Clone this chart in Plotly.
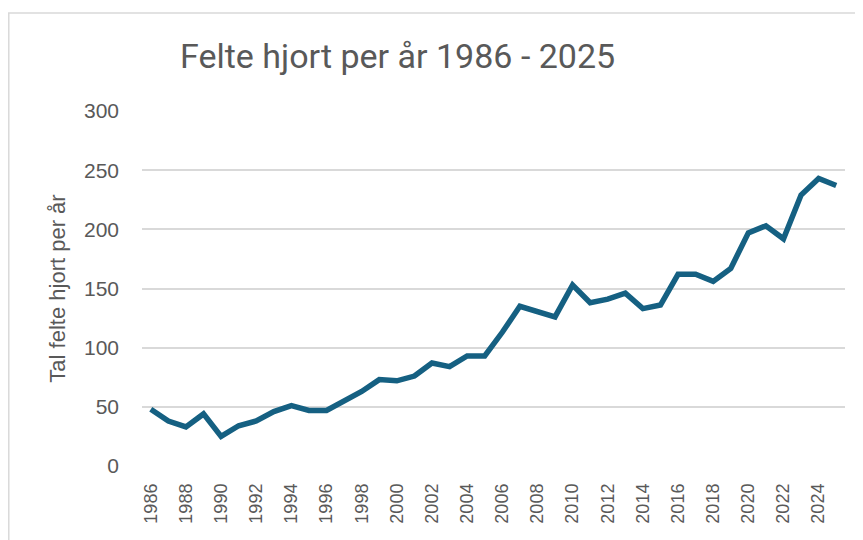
"""Felte hjort per år 1986 - 2025 (line chart)."""

import plotly.graph_objects as go

years = list(range(1986, 2026))
felte = [
    48, 38, 33, 44, 25, 34, 38, 46, 51, 47,
    47, 55, 63, 73, 72, 76, 87, 84, 93, 93,
    113, 135, 130, 126, 153, 138, 141, 146, 133, 136,
    162, 162, 156, 167, 197, 203, 192, 229, 243, 237,
]
y_ticks = [0, 50, 100, 150, 200, 250, 300]
x_ticks = list(range(1986, 2025, 2))

title_text = "Felte hjort per år 1986 - 2025"
y_title = "Tal felte hjort per år"

text_color = "#595959"
grid_color = "#d9d9d9"
line_color = "#156082"

# The page body has an 8px margin, so the figure is 8px smaller than the window
fig_w, fig_h = 855, 532

fig = go.Figure()

fig.add_trace(
    go.Scatter(
        x=years,
        y=felte,
        mode="lines",
        line=dict(color=line_color, width=5.5),
        showlegend=False,
        hoverinfo="x+y",
    )
)

# Light gray frame around the chart area, like in Excel
fig.add_shape(
    type="rect",
    xref="paper",
    yref="paper",
    x0=-0.1895,
    x1=1.04,
    y0=-0.25,
    y1=1.276,
    line=dict(color=grid_color, width=1.5),
    fillcolor="rgba(0,0,0,0)",
    layer="below",
)

fig.update_layout(
    width=fig_w,
    height=fig_h,
    paper_bgcolor="white",
    plot_bgcolor="white",
    font=dict(family="Liberation Sans, Arial, sans-serif", color=text_color, size=22),
    title=dict(
        text=title_text,
        x=172 / fig_w,
        xref="container",
        xanchor="left",
        y=1 - 48 / fig_h,
        yref="container",
        yanchor="middle",
        font=dict(family="Roboto, sans-serif", size=34, color=text_color),
    ),
    margin=dict(l=134, r=18, t=103, b=74),
    xaxis=dict(
        range=[1985.5, 2025.5],
        tickmode="array",
        tickvals=x_ticks,
        ticktext=[str(v) for v in x_ticks],
        tickangle=-90,
        showgrid=False,
        zeroline=False,
        showline=False,
        ticks="",
        ticklabelstandoff=13,
        tickfont=dict(size=18, color=text_color),
    ),
    yaxis=dict(
        range=[0, 300],
        tickmode="array",
        tickvals=y_ticks,
        showgrid=True,
        gridcolor=grid_color,
        gridwidth=1.5,
        zeroline=False,
        showline=False,
        ticks="",
        ticklabelstandoff=22,
        tickfont=dict(size=21, color=text_color),
        title=dict(text=y_title, standoff=12, font=dict(size=22, color=text_color)),
    ),
)

fig.write_html("out.html")
